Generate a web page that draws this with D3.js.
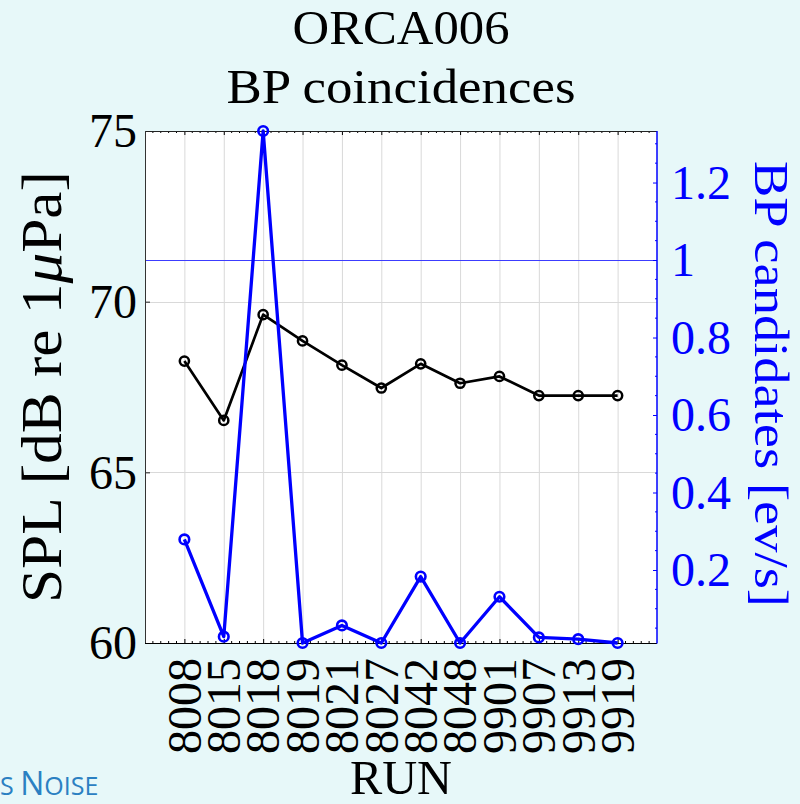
<!DOCTYPE html>
<html>
<head>
<meta charset="utf-8">
<script src="https://cdn.jsdelivr.net/npm/d3@7"></script>
<style>
  html, body { margin: 0; padding: 0; background: #e7f8f9; }
  svg { display: block; }
  text { font-family: "Liberation Serif", "Times New Roman", serif; }
  text.footer { font-family: "Open Sans", "Noto Sans", sans-serif; }
</style>
</head>
<body>
<svg id="chart" width="800" height="804"></svg>
<script>
// Runs and their measured values
const runs = ["8008", "8015", "8018", "8019", "8021", "8027", "8042", "8048", "9901", "9907", "9913", "9919"];
const splValues = [68.26, 66.52, 69.62, 68.85, 68.14, 67.47, 68.18, 67.61, 67.81, 67.25, 67.25, 67.25];
const bpRates = [0.279, 0.028, 1.333, 0.0116, 0.057, 0.0116, 0.183, 0.0116, 0.131, 0.026, 0.0216, 0.0116];

// Axis ticks
const splTicks = [60, 65, 70, 75];
const splGrid = [65, 70];
const bpTicks = [0.2, 0.4, 0.6, 0.8, 1, 1.2];
const bpThreshold = 1;

const titleLines = ["ORCA006", "BP coincidences"];

const svg = d3.select("#chart");
const plot = { left: 145, top: 131, width: 512, height: 512 };
const right = plot.left + plot.width, bottom = plot.top + plot.height;

const blue = "#0000ff";

// Scales: categories are spaced one unit apart with a one-unit pad on each side
const x = d3.scaleLinear().domain([-1, runs.length]).range([plot.left, right]);
const ySpl = d3.scaleLinear().domain([60, 75]).range([bottom, plot.top]);
const yBp = d3.scaleLinear().domain(d3.extent(bpRates)).range([bottom, plot.top]);

// Plot background
svg.append("rect")
  .attr("x", plot.left).attr("y", plot.top)
  .attr("width", plot.width).attr("height", plot.height)
  .attr("fill", "#ffffff");

// Grid
const grid = svg.append("g").attr("stroke", "#d9d9d9").attr("stroke-width", 1);
grid.selectAll("line.v").data(runs).join("line")
  .attr("class", "v")
  .attr("x1", (d, i) => x(i) + 0.5).attr("x2", (d, i) => x(i) + 0.5)
  .attr("y1", plot.top).attr("y2", bottom);
grid.selectAll("line.h").data(splGrid).join("line")
  .attr("class", "h")
  .attr("x1", plot.left).attr("x2", right)
  .attr("y1", d => Math.round(ySpl(d)) + 0.5).attr("y2", d => Math.round(ySpl(d)) + 0.5);

// Threshold line on the rate axis
svg.append("line")
  .attr("x1", plot.left).attr("x2", right)
  .attr("y1", Math.round(yBp(bpThreshold)) + 0.5).attr("y2", Math.round(yBp(bpThreshold)) + 0.5)
  .attr("stroke", "#3c3cff").attr("stroke-width", 1);

// Minor x ticks every 0.2 units
const xMinor = d3.range(-1, runs.length + 0.001, 0.2)
  .map(v => Math.round(v * 10) / 10)
  .filter(v => Math.abs(v - Math.round(v)) > 0.01);

// Bottom axis (ticks inward)
const xAxisBottom = d3.axisTop(x)
  .tickValues(d3.range(runs.length))
  .tickSize(4).tickSizeOuter(0).tickFormat("");
const gb = svg.append("g").attr("transform", `translate(0,${bottom})`).call(xAxisBottom);
gb.select(".domain").remove();
gb.selectAll("line").attr("stroke", "#000");
gb.selectAll("line.minor").data(xMinor).join("line")
  .attr("class", "minor")
  .attr("x1", d => x(d)).attr("x2", d => x(d))
  .attr("y1", 0).attr("y2", -2).attr("stroke", "#000");

// Top axis mirror
const xAxisTop = d3.axisBottom(x)
  .tickValues(d3.range(runs.length))
  .tickSize(4).tickSizeOuter(0).tickFormat("");
const gt = svg.append("g").attr("transform", `translate(0,${plot.top})`).call(xAxisTop);
gt.select(".domain").remove();
gt.selectAll("line").attr("stroke", "#000");
gt.selectAll("line.minor").data(xMinor).join("line")
  .attr("class", "minor")
  .attr("x1", d => x(d)).attr("x2", d => x(d))
  .attr("y1", 0).attr("y2", 2).attr("stroke", "#000");

// Rotated run labels
svg.append("g").selectAll("text").data(runs).join("text")
  .attr("transform", (d, i) => `translate(${x(i)},${bottom + 15}) rotate(-90)`)
  .attr("text-anchor", "end")
  .attr("dy", "0.34em")
  .attr("font-size", 48)
  .attr("fill", "#000")
  .text(d => d);

// Left axis (SPL)
const yAxisLeft = d3.axisRight(ySpl).tickValues(splGrid).tickSize(5).tickSizeOuter(0).tickFormat("");
const gl = svg.append("g").attr("transform", `translate(${plot.left},0)`).call(yAxisLeft);
gl.select(".domain").remove();
gl.selectAll("line").attr("stroke", "#222");
svg.append("g").selectAll("text").data(splTicks).join("text")
  .attr("x", plot.left - 8)
  .attr("y", d => ySpl(d))
  .attr("dy", "0.34em")
  .attr("text-anchor", "end")
  .attr("font-size", 48)
  .attr("fill", "#000")
  .text(d => d);

// Right axis (BP rate), ticks inward
const bpMinor = d3.range(0.05, 1.33, 0.05)
  .map(v => Math.round(v * 100) / 100)
  .filter(v => bpTicks.every(t => Math.abs(t - v) > 1e-6) && v >= yBp.domain()[0] && v <= yBp.domain()[1]);
const yAxisRight = d3.axisLeft(yBp).tickValues(bpTicks).tickSize(4).tickSizeOuter(0).tickFormat("");
const gr = svg.append("g").attr("transform", `translate(${right},0)`).call(yAxisRight);
gr.select(".domain").remove();
gr.selectAll("line").attr("stroke", blue);
gr.selectAll("line.minor").data(bpMinor).join("line")
  .attr("class", "minor")
  .attr("x1", 0).attr("x2", -2)
  .attr("y1", d => yBp(d)).attr("y2", d => yBp(d))
  .attr("stroke", blue);
svg.append("g").selectAll("text").data(bpTicks).join("text")
  .attr("x", right + 14)
  .attr("y", d => yBp(d))
  .attr("dy", "0.34em")
  .attr("text-anchor", "start")
  .attr("font-size", 48)
  .attr("fill", blue)
  .text(d => d3.format("~g")(d));

// Frame
const frame = svg.append("g").attr("fill", "none");
frame.append("line").attr("x1", plot.left).attr("x2", right).attr("y1", plot.top + 0.5).attr("y2", plot.top + 0.5).attr("stroke", "#222");
frame.append("line").attr("x1", plot.left).attr("x2", right).attr("y1", bottom + 0.5).attr("y2", bottom + 0.5).attr("stroke", "#000");
frame.append("line").attr("x1", plot.left + 0.5).attr("x2", plot.left + 0.5).attr("y1", plot.top).attr("y2", bottom).attr("stroke", "#333");
frame.append("line").attr("x1", right).attr("x2", right).attr("y1", plot.top).attr("y2", bottom + 0.5).attr("stroke", blue).attr("stroke-width", 1.5);

// SPL series
const splLine = d3.line().x((d, i) => x(i)).y(d => ySpl(d));
svg.append("path").datum(splValues)
  .attr("d", splLine)
  .attr("fill", "none").attr("stroke", "#000").attr("stroke-width", 2.7)
  .attr("stroke-linejoin", "round");
svg.append("g").selectAll("circle").data(splValues).join("circle")
  .attr("cx", (d, i) => x(i)).attr("cy", d => ySpl(d)).attr("r", 4.6)
  .attr("fill", "none").attr("stroke", "#000").attr("stroke-width", 2.5);

// BP rate series
const bpLine = d3.line().x((d, i) => x(i)).y(d => yBp(d));
svg.append("path").datum(bpRates)
  .attr("d", bpLine)
  .attr("fill", "none").attr("stroke", blue).attr("stroke-width", 3.3)
  .attr("stroke-linejoin", "round");
svg.append("g").selectAll("circle").data(bpRates).join("circle")
  .attr("cx", (d, i) => x(i)).attr("cy", d => yBp(d)).attr("r", 4.8)
  .attr("fill", "none").attr("stroke", blue).attr("stroke-width", 2.6);

// Title
const cx = plot.left + plot.width / 2;
svg.append("text").attr("x", cx).attr("y", 44).attr("text-anchor", "middle")
  .attr("font-size", 48).attr("textLength", 217).attr("lengthAdjust", "spacingAndGlyphs")
  .text(titleLines[0]);
svg.append("text").attr("x", cx).attr("y", 103).attr("text-anchor", "middle")
  .attr("font-size", 48).attr("textLength", 349).attr("lengthAdjust", "spacingAndGlyphs")
  .text(titleLines[1]);

// X axis label
svg.append("text").attr("x", cx).attr("y", 794).attr("text-anchor", "middle")
  .attr("font-size", 48).attr("textLength", 102).attr("lengthAdjust", "spacingAndGlyphs")
  .text("RUN");

// Left axis label
const yl = svg.append("text")
  .attr("transform", `translate(61,${plot.top + plot.height / 2}) rotate(-90)`)
  .attr("text-anchor", "middle")
  .attr("font-size", 57)
  .attr("textLength", 432).attr("lengthAdjust", "spacingAndGlyphs")
  .attr("fill", "#000");
yl.append("tspan").text("SPL [dB re 1");
yl.append("tspan").attr("font-style", "italic").text("μ");
yl.append("tspan").text("Pa]");

// Right axis label
svg.append("text")
  .attr("transform", `translate(755,${plot.top + plot.height / 2 - 3}) rotate(90)`)
  .attr("text-anchor", "middle")
  .attr("font-size", 48)
  .attr("textLength", 446).attr("lengthAdjust", "spacingAndGlyphs")
  .attr("fill", blue)
  .text("BP candidates [ev/s]");

// Footer fragment
const foot = svg.append("text")
  .attr("class", "footer")
  .attr("x", 0).attr("y", 795)
  .attr("fill", "#2b80c2");
foot.append("tspan").attr("font-size", 25).text("S ");
foot.append("tspan").attr("font-size", 32).text("N");
foot.append("tspan").attr("font-size", 25).text("OISE");
</script>
</body>
</html>
